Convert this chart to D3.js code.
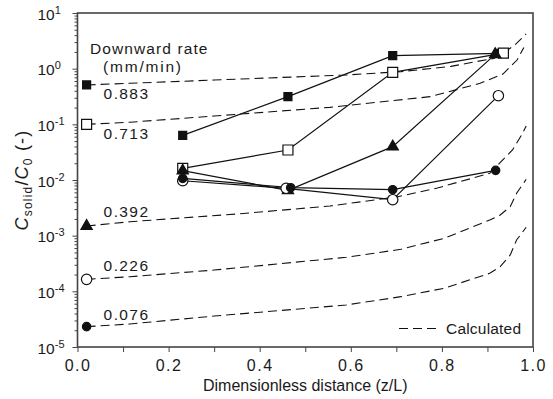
<!DOCTYPE html>
<html>
<head>
<meta charset="utf-8">
<script src="https://cdn.jsdelivr.net/npm/d3@7"></script>
<style>
  body { margin: 0; background: #fff; }
  svg text { font-family: "Liberation Sans", Arial, sans-serif; fill: #1a1a1a; }
</style>
</head>
<body>
<div id="chart"></div>
<script>
// axis ticks
const xTicks = [0, 0.2, 0.4, 0.6, 0.8, 1.0];
const xMinor = [0.1, 0.3, 0.5, 0.7, 0.9];
const yExps = [1, 0, -1, -2, -3, -4, -5];

// downward rates (mm/min) and starting points at z/L ~ 0.02
const rateLabels = ['0.883', '0.713', '0.392', '0.226', '0.076'];
const startX = 0.02;
const startVals = [0.51, 0.1, 0.00149, 0.000164, 0.0000232];

// measured points
const r883X = [0.231, 0.462, 0.692, 0.925];
const r883Y = [0.0635, 0.314, 1.71, 1.89];
const r713X = [0.231, 0.462, 0.692, 0.935];
const r713Y = [0.0162, 0.0346, 0.86, 1.9];
const r392X = [0.231, 0.462, 0.692, 0.917];
const r392Y = [0.0147, 0.0065, 0.0397, 1.81];
const r226X = [0.231, 0.458, 0.692, 0.924];
const r226Y = [0.0097, 0.0071, 0.00443, 0.327];
const r076X = [0.231, 0.468, 0.692, 0.918];
const r076Y = [0.0107, 0.00728, 0.0067, 0.0149];

// calculated curves
const calc883X = [0.02, 0.115, 0.3, 0.59, 0.71, 0.82, 0.914, 0.934, 0.96, 0.985];
const calc883Y = [0.51, 0.546, 0.625, 0.77, 0.883, 1.1, 1.53, 1.89, 2.66, 4.2];
const calc713X = [0.02, 0.115, 0.3, 0.554, 0.774, 0.884, 0.934, 0.965, 0.98];
const calc713Y = [0.1, 0.109, 0.141, 0.202, 0.314, 0.546, 0.8, 1.43, 2.4];
const calc392X = [0.02, 0.115, 0.35, 0.554, 0.7, 0.79, 0.905, 0.955, 0.975, 0.985];
const calc392Y = [0.00149, 0.00178, 0.00245, 0.00341, 0.00495, 0.00718, 0.0132, 0.0346, 0.0643, 0.0933];
const calc226X = [0.02, 0.115, 0.3, 0.59, 0.71, 0.805, 0.905, 0.928, 0.95, 0.964, 0.985];
const calc226Y = [0.000164, 0.000183, 0.000241, 0.000409, 0.000569, 0.000897, 0.00191, 0.00235, 0.00332, 0.00577, 0.0103];
const calc076X = [0.02, 0.115, 0.3, 0.59, 0.71, 0.805, 0.905, 0.928, 0.95, 0.964, 0.985];
const calc076Y = [0.0000232, 0.0000259, 0.000036, 0.0000569, 0.0000802, 0.0001135, 0.000211, 0.000277, 0.00045, 0.000836, 0.001416];

const W = 553, H = 399;
const m = { left: 77.5, right: 20, top: 13, bottom: 52 };

const svg = d3.select('#chart').append('svg')
  .attr('width', W)
  .attr('height', H);

const x = d3.scaleLinear().domain([0, 1]).range([m.left, W - m.right]);
const y = d3.scaleLog().domain([1e-5, 10]).range([H - m.bottom, m.top]);

const ink = '#111';
const frame = '#444';
const dash = '9,5';

// minor y ticks
const yMinor = [];
yExps.slice(1).forEach(e => {
  for (let k = 2; k <= 9; k++) yMinor.push(k * Math.pow(10, e));
});

svg.append('g')
  .attr('transform', `translate(${m.left},0)`)
  .call(d3.axisLeft(y).tickValues(yMinor).tickSize(3).tickFormat(''))
  .call(g => g.select('.domain').remove())
  .call(g => g.selectAll('line').attr('stroke', frame));

const yAx = svg.append('g')
  .attr('transform', `translate(${m.left},0)`)
  .call(d3.axisLeft(y).tickValues(yExps.map(e => Math.pow(10, e))).tickSize(5))
  .call(g => g.select('.domain').remove())
  .call(g => g.selectAll('line').attr('stroke', frame));

yAx.selectAll('.tick text')
  .attr('text-anchor', 'start')
  .attr('x', -40)
  .attr('dy', null)
  .attr('y', 6)
  .style('font-size', '15.5px')
  .text('')
  .each(function (d) {
    const t = d3.select(this);
    t.append('tspan').text('10');
    t.append('tspan')
      .attr('dy', -6)
      .style('font-size', '11px')
      .text(Math.round(Math.log10(d)));
  });

// x axis
svg.append('g')
  .attr('transform', `translate(0,${H - m.bottom})`)
  .call(d3.axisBottom(x).tickValues(xMinor).tickSize(5).tickFormat(''))
  .call(g => g.select('.domain').remove())
  .call(g => g.selectAll('line').attr('stroke', frame));

svg.append('g')
  .attr('transform', `translate(0,${H - m.bottom})`)
  .call(d3.axisBottom(x).tickValues(xTicks).tickSize(5).tickFormat(d3.format('.1f')))
  .call(g => g.select('.domain').remove())
  .call(g => g.selectAll('line').attr('stroke', frame))
  .call(g => g.selectAll('text')
    .attr('y', 24)
    .attr('dy', null)
    .style('font-size', '16px')
    .style('letter-spacing', '1.5px'));

// frame
svg.append('rect')
  .attr('x', x(0))
  .attr('y', y(10))
  .attr('width', x(1) - x(0))
  .attr('height', y(1e-5) - y(10))
  .attr('fill', 'none')
  .attr('stroke', frame)
  .attr('stroke-width', 1.6);

// axis titles
svg.append('text')
  .attr('x', (x(0) + x(1)) / 2)
  .attr('y', 391)
  .attr('text-anchor', 'middle')
  .style('font-size', '16px')
  .text('Dimensionless distance (z/L)');

const yt = svg.append('text')
  .attr('transform', `translate(28,${(y(10) + y(1e-5)) / 2}) rotate(-90)`)
  .attr('text-anchor', 'middle')
  .style('font-size', '18px')
  .style('letter-spacing', '1.2px');
yt.append('tspan').style('font-style', 'italic').text('C');
yt.append('tspan').attr('dy', 4).style('font-size', '12px').text('solid');
yt.append('tspan').attr('dy', -4).text('/');
yt.append('tspan').style('font-style', 'italic').text('C');
yt.append('tspan').attr('dy', 4).style('font-size', '12px').text('0');
yt.append('tspan').attr('dy', -4).text(' (-)');

// calculated curves
const line = d3.line().x(d => x(d[0])).y(d => y(d[1]));
const calcX = [calc883X, calc713X, calc392X, calc226X, calc076X];
const calcY = [calc883Y, calc713Y, calc392Y, calc226Y, calc076Y];
calcX.forEach((xs, i) => {
  svg.append('path')
    .datum(xs.map((v, j) => [v, calcY[i][j]]))
    .attr('d', line)
    .attr('fill', 'none')
    .attr('stroke', ink)
    .attr('stroke-width', 1.1)
    .attr('stroke-dasharray', dash);
});

// measured lines
const measX = [r883X, r713X, r392X, r226X, r076X];
const measY = [r883Y, r713Y, r392Y, r226Y, r076Y];
measX.forEach((xs, i) => {
  svg.append('path')
    .datum(xs.map((v, j) => [v, measY[i][j]]))
    .attr('d', line)
    .attr('fill', 'none')
    .attr('stroke', ink)
    .attr('stroke-width', 1.2);
});

// markers
const shapes = [
  { sym: d3.symbolSquare, size: 64, fill: ink },
  { sym: d3.symbolSquare, size: 100, fill: '#fff' },
  { sym: d3.symbolTriangle, size: 55, fill: ink },
  { sym: d3.symbolCircle, size: 85, fill: '#fff' },
  { sym: d3.symbolCircle, size: 55, fill: ink }
];
measX.forEach((xs, i) => {
  const pts = [[startX, startVals[i]]].concat(xs.map((v, j) => [v, measY[i][j]]));
  svg.append('g').selectAll('path')
    .data(pts)
    .join('path')
    .attr('transform', d => `translate(${x(d[0])},${y(d[1])})`)
    .attr('d', d3.symbol().type(shapes[i].sym).size(shapes[i].size))
    .attr('fill', shapes[i].fill)
    .attr('stroke', ink)
    .attr('stroke-width', 1.2);
});

// rate labels
const labelDy = [14.5, 15, -9.5, -8, -6.5];
rateLabels.forEach((t, i) => {
  svg.append('text')
    .attr('x', x(startX) + 17)
    .attr('y', y(startVals[i]) + labelDy[i])
    .style('font-size', '15.5px')
    .style('letter-spacing', '1.4px')
    .text(t);
});

svg.append('text')
  .attr('x', 90)
  .attr('y', 54)
  .style('font-size', '15.5px')
  .style('letter-spacing', '1.1px')
  .text('Downward rate');
svg.append('text')
  .attr('x', 103)
  .attr('y', 72)
  .style('font-size', '15.5px')
  .style('letter-spacing', '1.8px')
  .text('(mm/min)');

// legend
svg.append('line')
  .attr('x1', 399).attr('x2', 437)
  .attr('y1', 328.5).attr('y2', 328.5)
  .attr('stroke', ink)
  .attr('stroke-width', 1.1)
  .attr('stroke-dasharray', dash);
svg.append('text')
  .attr('x', 446)
  .attr('y', 334)
  .style('font-size', '15.5px')
  .style('letter-spacing', '0.2px')
  .text('Calculated');
</script>
</body>
</html>
